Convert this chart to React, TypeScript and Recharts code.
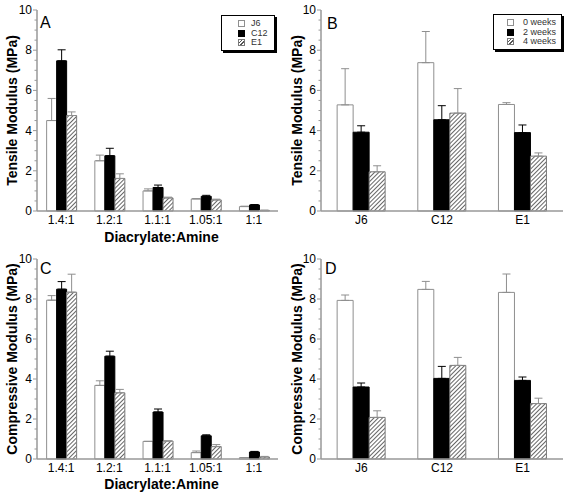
import React from "react";
import { Bar, BarChart, ErrorBar, XAxis, YAxis } from "recharts";

const FONT = '"Liberation Sans", Arial, Helvetica, sans-serif';
const AXIS = "#999999";

const ratios = ["1.4:1", "1.2:1", "1.1:1", "1.05:1", "1:1"];
const monomers = ["J6", "C12", "E1"];
const weeks = ["0 weeks", "2 weeks", "4 weeks"];
const yTicks = [0, 0.5, 1, 1.5, 2, 2.5, 3, 3.5, 4, 4.5, 5, 5.5, 6, 6.5, 7, 7.5, 8, 8.5, 9, 9.5, 10];

// A: tensile modulus vs diacrylate:amine
const tensileJ6 = [4.5, 2.5, 1.0, 0.6, 0.22];
const tensileJ6Err = [1.1, 0.28, 0.1, 0.02, 0.02];
const tensileC12 = [7.47, 2.75, 1.17, 0.73, 0.3];
const tensileC12Err = [0.55, 0.37, 0.12, 0.05, 0.02];
const tensileE1 = [4.75, 1.62, 0.65, 0.55, 0.03];
const tensileE1Err = [0.18, 0.23, 0.04, 0.04, 0.01];

// B: tensile modulus during degradation
const tensile0w = [5.28, 7.38, 5.3];
const tensile0wErr = [1.8, 1.55, 0.09];
const tensile2w = [3.92, 4.54, 3.9];
const tensile2wErr = [0.32, 0.7, 0.38];
const tensile4w = [1.95, 4.87, 2.73];
const tensile4wErr = [0.3, 1.22, 0.16];

// C: compressive modulus vs diacrylate:amine
const compJ6 = [7.94, 3.68, 0.88, 0.32, 0.07];
const compJ6Err = [0.23, 0.23, 0.0, 0.08, 0.0];
const compC12 = [8.49, 5.14, 2.35, 1.16, 0.35];
const compC12Err = [0.38, 0.25, 0.15, 0.05, 0.03];
const compE1 = [8.34, 3.31, 0.9, 0.62, 0.1];
const compE1Err = [0.9, 0.17, 0.0, 0.1, 0.03];

// D: compressive modulus during degradation
const comp0w = [7.93, 8.48, 8.33];
const comp0wErr = [0.27, 0.4, 0.92];
const comp2w = [3.6, 4.03, 3.93];
const comp2wErr = [0.2, 0.6, 0.17];
const comp4w = [2.08, 4.68, 2.77];
const comp4wErr = [0.33, 0.4, 0.27];

const styles = [
  { fill: "#ffffff", stroke: "#8f8f8f", err: "#8f8f8f" },
  { fill: "#000000", stroke: "#000000", err: "#000000" },
  { fill: "hatch", stroke: "#7a7a7a", err: "#8f8f8f" },
];

const LeftTick = (props: any) => {
  const { x, y, payload } = props;
  const major = payload.value % 2 === 0;
  return (
    <g>
      <line x1={x - (major ? 4 : 2.5)} x2={x} y1={y} y2={y} stroke={AXIS} strokeWidth={1} />
      {major && (
        <text x={x - 5} y={y} dy={4} textAnchor="end" fontSize={12} fill="#000" fontFamily={FONT}>
          {payload.value}
        </text>
      )}
    </g>
  );
};

const RightTick = (props: any) => {
  const { x, y } = props;
  return <line x1={x} x2={x + 2.5} y1={y} y2={y} stroke={AXIS} strokeWidth={1} />;
};

type LegendBoxSpec = { left: number; top: number; width: number; height: number; icon: number; text: number };

type PanelProps = {
  letter: string;
  left: number;
  top: number;
  height: number;
  marginTop: number;
  marginRight: number;
  yAxisWidth: number;
  xAxisHeight: number;
  cats: string[];
  names: string[];
  values: number[][];
  errors: number[][];
  yLabel: string;
  xLabel?: string;
  xLabelOffset?: number;
  legendBox?: LegendBoxSpec;
  letterPos: { left: number; top: number };
};

function LegendIcon({ s }: { s: number }) {
  const base: React.CSSProperties = {
    position: "absolute",
    width: 7,
    height: 7,
    boxSizing: "border-box",
    border: `1px solid ${styles[s].stroke}`,
  };
  if (s === 0) return <div style={{ ...base, background: "#fff" }} />;
  if (s === 1) return <div style={{ ...base, background: "#000" }} />;
  return (
    <div
      style={{
        ...base,
        background: "repeating-linear-gradient(135deg, #fff 0 1.6px, #555 1.6px 2.6px)",
      }}
    />
  );
}

function LegendBox({ lb, names }: { lb: LegendBoxSpec; names: string[] }) {
  return (
    <div
      style={{
        position: "absolute",
        left: lb.left,
        top: lb.top,
        width: lb.width,
        height: lb.height,
        boxSizing: "border-box",
        border: "1px solid #000",
        boxShadow: "2px 2px 0 #000",
        background: "#fff",
      }}
    >
      {names.map((name, s) => (
        <div key={name} style={{ position: "absolute", left: 0, top: 3 + s * 9.5, width: "100%", height: 9 }}>
          <div style={{ position: "absolute", left: lb.icon, top: 1 }}>
            <LegendIcon s={s} />
          </div>
          <div
            style={{
              position: "absolute",
              left: lb.text,
              top: -1,
              fontSize: 9,
              lineHeight: "10px",
              color: "#333",
              fontFamily: FONT,
              whiteSpace: "nowrap",
            }}
          >
            {name}
          </div>
        </div>
      ))}
    </div>
  );
}

function Panel(p: PanelProps) {
  const data = p.cats.map((cat, i) => {
    const row: Record<string, unknown> = { cat };
    p.values.forEach((vals, s) => {
      row[`s${s}`] = vals[i];
      row[`e${s}`] = [0, p.errors[s][i]];
    });
    return row;
  });
  const hatchId = `hatch-${p.letter}`;

  return (
    <div style={{ position: "absolute", left: p.left, top: p.top, width: 286, height: p.height }}>
      <BarChart
        width={286}
        height={p.height}
        data={data}
        margin={{ top: p.marginTop, right: p.marginRight, left: 0, bottom: 0 }}
        barCategoryGap="20%"
        barGap={0}
        style={{ fontFamily: FONT }}
      >
        <defs>
          <pattern id={hatchId} width={3} height={3} patternUnits="userSpaceOnUse" patternTransform="rotate(45)">
            <rect width={3} height={3} fill="#fff" />
            <line x1={1.5} y1={0} x2={1.5} y2={3} stroke="#555" strokeWidth={0.9} />
          </pattern>
        </defs>
        <XAxis
          dataKey="cat"
          height={p.xAxisHeight}
          interval={0}
          tickLine={false}
          tickSize={0}
          tickMargin={4}
          axisLine={{ stroke: AXIS, strokeWidth: 1.5 }}
          tick={{ fontSize: 12, fill: "#000", fontFamily: FONT }}
          label={
            p.xLabel
              ? {
                  value: p.xLabel,
                  position: "insideBottom",
                  offset: p.xLabelOffset,
                  dx: 4,
                  style: { fontSize: 14, fontWeight: "bold", fill: "#000", fontFamily: FONT },
                }
              : undefined
          }
        />
        <XAxis
          xAxisId="top"
          orientation="top"
          dataKey="cat"
          height={0}
          tick={false}
          tickLine={false}
          axisLine={{ stroke: AXIS, strokeWidth: 1.5 }}
        />
        <YAxis
          width={p.yAxisWidth}
          domain={[0, 10]}
          ticks={yTicks}
          interval={0}
          tickLine={false}
          tickSize={0}
          tickMargin={0}
          tick={<LeftTick />}
          axisLine={{ stroke: AXIS, strokeWidth: 1.5 }}
          label={{
            value: p.yLabel,
            angle: -90,
            position: "insideLeft",
            offset: p.left === 0 ? 12 : 11,
            style: { textAnchor: "middle", fontSize: 14, fontWeight: "bold", fill: "#000", fontFamily: FONT },
          }}
        />
        <YAxis
          yAxisId="right"
          orientation="right"
          width={0}
          domain={[0, 10]}
          ticks={yTicks}
          interval={0}
          tickLine={false}
          tickSize={0}
          tickMargin={0}
          tick={<RightTick />}
          axisLine={{ stroke: AXIS, strokeWidth: 1.5 }}
        />
        {p.names.map((name, s) => (
          <Bar
            key={name}
            dataKey={`s${s}`}
            name={name}
            fill={styles[s].fill === "hatch" ? `url(#${hatchId})` : styles[s].fill}
            stroke={styles[s].stroke}
            strokeWidth={1}
            isAnimationActive={false}
          >
            <ErrorBar
              dataKey={`e${s}`}
              direction="y"
              width={4}
              stroke={styles[s].err}
              strokeWidth={1}
              isAnimationActive={false}
            />
          </Bar>
        ))}
      </BarChart>

      {p.legendBox && <LegendBox lb={p.legendBox} names={p.names} />}

      <div
        style={{
          position: "absolute",
          left: p.letterPos.left,
          top: p.letterPos.top,
          fontSize: 16,
          lineHeight: "16px",
          fontFamily: FONT,
          color: "#000",
        }}
      >
        {p.letter}
      </div>
    </div>
  );
}

export default function App() {
  return (
    <div style={{ position: "absolute", left: 0, top: 0, width: 572, height: 497, background: "#fff" }}>
      <Panel
        letter="A"
        left={0}
        top={0}
        height={245}
        marginTop={10}
        marginRight={8}
        yAxisWidth={37}
        xAxisHeight={34}
        cats={ratios}
        names={monomers}
        values={[tensileJ6, tensileC12, tensileE1]}
        errors={[tensileJ6Err, tensileC12Err, tensileE1Err]}
        yLabel="Tensile Modulus (MPa)"
        xLabel="Diacrylate:Amine"
        xLabelOffset={3}
        legendBox={{ left: 221, top: 15, width: 54, height: 36, icon: 16, text: 29 }}
        letterPos={{ left: 40, top: 15 }}
      />
      <Panel
        letter="B"
        left={286}
        top={0}
        height={245}
        marginTop={10}
        marginRight={9}
        yAxisWidth={35}
        xAxisHeight={34}
        cats={monomers}
        names={weeks}
        values={[tensile0w, tensile2w, tensile4w]}
        errors={[tensile0wErr, tensile2wErr, tensile4wErr]}
        yLabel="Tensile Modulus (MPa)"
        legendBox={{ left: 207, top: 14, width: 69, height: 36, icon: 13, text: 29 }}
        letterPos={{ left: 41, top: 16 }}
      />
      <Panel
        letter="C"
        left={0}
        top={245}
        height={252}
        marginTop={14}
        marginRight={8}
        yAxisWidth={37}
        xAxisHeight={38}
        cats={ratios}
        names={monomers}
        values={[compJ6, compC12, compE1]}
        errors={[compJ6Err, compC12Err, compE1Err]}
        yLabel="Compressive Modulus (MPa)"
        xLabel="Diacrylate:Amine"
        xLabelOffset={8}
        letterPos={{ left: 40, top: 16 }}
      />
      <Panel
        letter="D"
        left={286}
        top={245}
        height={252}
        marginTop={14}
        marginRight={9}
        yAxisWidth={35}
        xAxisHeight={38}
        cats={monomers}
        names={weeks}
        values={[comp0w, comp2w, comp4w]}
        errors={[comp0wErr, comp2wErr, comp4wErr]}
        yLabel="Compressive Modulus (MPa)"
        letterPos={{ left: 39, top: 16 }}
      />
    </div>
  );
}
